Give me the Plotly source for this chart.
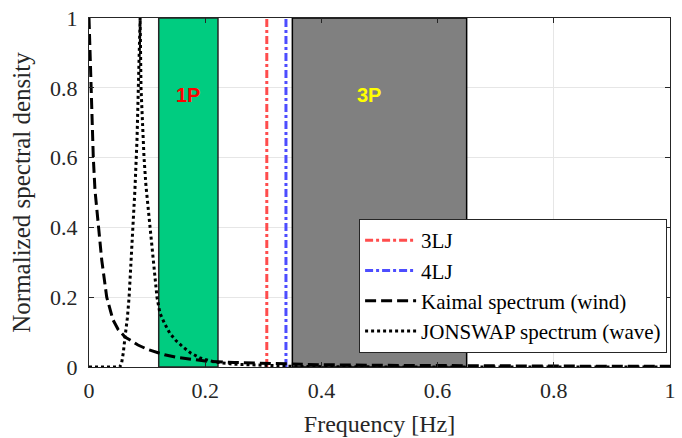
import plotly.graph_objects as go

# Frequency axis [Hz] and normalized spectral densities
kaimal_f = [0, 0.002, 0.0046, 0.0074, 0.0103, 0.016, 0.0219, 0.0305, 0.0413, 0.05,
            0.062, 0.075, 0.0843, 0.1, 0.1136, 0.13, 0.15, 0.175, 0.2, 0.25,
            0.3, 0.35, 0.4, 0.5, 0.6, 0.7, 0.8, 0.9, 1.0]
kaimal_s = [1.0, 0.88, 0.8, 0.6, 0.507, 0.4, 0.307, 0.2, 0.135, 0.108,
            0.086, 0.073, 0.063, 0.051, 0.043, 0.035, 0.028, 0.022, 0.017, 0.013,
            0.0105, 0.008, 0.0065, 0.0048, 0.0037, 0.003, 0.0025, 0.0021, 0.0018]

jonswap_f = [0, 0.03, 0.053, 0.056, 0.059, 0.062, 0.066, 0.069, 0.0725, 0.0757,
             0.079, 0.0826, 0.086, 0.088, 0.0895, 0.092, 0.0947, 0.098, 0.105, 0.111,
             0.117, 0.122, 0.13, 0.139, 0.15, 0.162, 0.175, 0.191, 0.217, 0.25,
             0.3, 0.35, 0.4, 0.45, 0.5, 0.7, 1.0]
jonswap_s = [0, 0, 0, 0.01, 0.04, 0.086, 0.14, 0.2, 0.3, 0.4,
             0.507, 0.65, 0.85, 1.0, 0.8, 0.7, 0.6, 0.52, 0.4, 0.3,
             0.2, 0.155, 0.125, 0.097, 0.075, 0.057, 0.04, 0.026, 0.014, 0.008,
             0.004, 0.002, 0.001, 0.0005, 0.0003, 0.0001, 0]

# Natural frequencies of the jacket designs [Hz]
lj3_freq = 0.306
lj4_freq = 0.339

# Rotor frequency bands [Hz]
band_1p = [0.12, 0.222]
band_3p = [0.35, 0.65]

ticks = [0, 0.2, 0.4, 0.6, 0.8, 1]
tick_labels = ["0", "0.2", "0.4", "0.6", "0.8", "1"]

serif = "Liberation Serif"
sans = "Liberation Sans"
axis_col = "#262626"

fig = go.Figure()

fig.add_trace(go.Scatter(
    x=[lj3_freq, lj3_freq], y=[0, 1], mode="lines", name="3LJ",
    line=dict(color="#FF4D4D", width=3, dash="8px,3px,3px,3px")))
fig.add_trace(go.Scatter(
    x=[lj4_freq, lj4_freq], y=[0, 1], mode="lines", name="4LJ",
    line=dict(color="#4D4DFF", width=3, dash="8px,3px,3px,3px")))
fig.add_trace(go.Scatter(
    x=kaimal_f, y=kaimal_s, mode="lines", name="Kaimal spectrum (wind)",
    line=dict(color="black", width=3, dash="11px,5px")))
fig.add_trace(go.Scatter(
    x=jonswap_f, y=jonswap_s, mode="lines", name="JONSWAP spectrum (wave)",
    line=dict(color="black", width=3, dash="3px,3px")))

# Shaded rotor bands, drawn above the grid but below the curves
fig.add_shape(type="rect", xref="x", yref="y", x0=band_1p[0], x1=band_1p[1], y0=0, y1=1,
              fillcolor="#00CC80", line=dict(color="#262626", width=1.5), layer="between")
fig.add_shape(type="rect", xref="x", yref="y", x0=band_3p[0], x1=band_3p[1], y0=0, y1=1,
              fillcolor="#808080", line=dict(color="black", width=1.5), layer="between")

fig.add_annotation(x=0.1704, y=0.778, xref="x", yref="y", text="<b>1P</b>", showarrow=False,
                   font=dict(family=sans, size=20, color="#FF0000"))
fig.add_annotation(x=0.482, y=0.778, xref="x", yref="y", text="<b>3P</b>", showarrow=False,
                   font=dict(family=sans, size=20, color="#FFFF00"))

axis_common = dict(
    range=[0, 1], tickvals=ticks, ticktext=tick_labels,
    showgrid=True, gridcolor="#E6E6E6", gridwidth=1, zeroline=False,
    showline=True, linecolor=axis_col, linewidth=1, mirror="ticks",
    ticks="inside", ticklen=5, tickcolor=axis_col,
    tickfont=dict(family=serif, size=22, color=axis_col),
)

fig.update_xaxes(**axis_common, ticklabelstandoff=4,
                 title=dict(text="Frequency [Hz]", standoff=12,
                            font=dict(family=serif, size=24, color=axis_col)))
fig.update_yaxes(**axis_common, ticklabelstandoff=6,
                 title=dict(text="Normalized spectral density", standoff=12,
                            font=dict(family=serif, size=25, color=axis_col)))

fig.update_layout(
    width=682, height=438,
    margin=dict(l=89, r=12, t=18, b=71, autoexpand=False),
    plot_bgcolor="white", paper_bgcolor="white",
    showlegend=True,
    legend=dict(
        x=0.995, y=0.04, xanchor="right", yanchor="bottom",
        bgcolor="white", bordercolor="#262626", borderwidth=1,
        font=dict(family=serif, size=21, color="black"),
        tracegroupgap=0, itemwidth=51,
    ),
)

fig.write_html("out.html")
